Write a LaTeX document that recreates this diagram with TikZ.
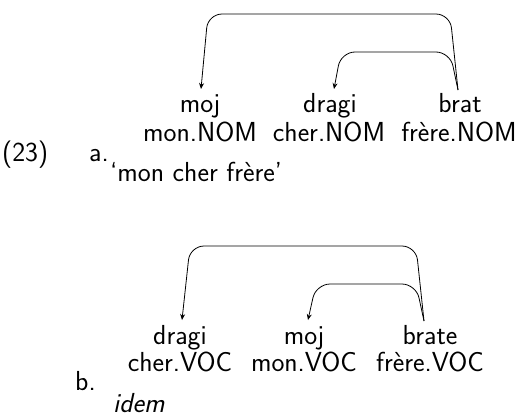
\documentclass[tikz,border=0pt]{standalone}
\usetikzlibrary{arrows.meta}
\tikzset{
  txt/.style={font=\sffamily\fontsize{27.5}{33}\selectfont, inner sep=0pt},
  word/.style={txt, anchor=base},
  lab/.style={txt, anchor=base west},
  dep/.style={-{Stealth[length=6pt,width=5pt]}, line width=0.8pt, rounded corners=14pt}
}
\begin{document}
\begin{tikzpicture}[x=1pt,y=-1pt]
\useasboundingbox (0,0) rectangle (527,416);
% example a
\node[lab] (num) at (2,161) {(23)};
\node[lab] (la) at (89,161) {a.};
\node[word] (w1a) at (200,112) {moj};
\node[word] (w2a) at (330,112) {dragi};
\node[word] (w3a) at (460,112) {brat};
\node[word] (g1a) at (200,141) {mon.NOM};
\node[word] (g2a) at (329,141) {cher.NOM};
\node[word] (g3a) at (459,141) {frère.NOM};
\node[lab] (tra) at (110,181) {\textquoteleft mon cher frère\textquoteright};
\draw[dep] ([xshift=-2pt,yshift=22pt]w3a.base) -- ([xshift=-10pt,yshift=98pt]w3a.base) -- ([xshift=8pt,yshift=98pt]w1a.base) -- ([xshift=1pt,yshift=23pt]w1a.base);
\draw[dep] ([xshift=-2pt,yshift=22pt]w3a.base) -- ([xshift=-10pt,yshift=60pt]w3a.base) -- ([xshift=11pt,yshift=60pt]w2a.base) -- ([xshift=4pt,yshift=23pt]w2a.base);
% example b
\node[lab] (lb) at (75,390) {b.};
\node[word] (w1b) at (180,344) {dragi};
\node[word] (w2b) at (304,344) {moj};
\node[word] (w3b) at (430,344) {brate};
\node[word] (g1b) at (180,371) {cher.VOC};
\node[word] (g2b) at (304,371) {mon.VOC};
\node[word] (g3b) at (430,371) {frère.VOC};
\node[lab, text depth=0pt] (trb) at (113,412) {\itshape idem};
\draw[dep] ([xshift=-6pt,yshift=23pt]w3b.base) -- ([xshift=-14pt,yshift=98pt]w3b.base) -- ([xshift=10pt,yshift=98pt]w1b.base) -- ([xshift=2pt,yshift=24pt]w1b.base);
\draw[dep] ([xshift=-6pt,yshift=23pt]w3b.base) -- ([xshift=-14pt,yshift=60pt]w3b.base) -- ([xshift=12pt,yshift=60pt]w2b.base) -- ([xshift=4pt,yshift=24pt]w2b.base);
\end{tikzpicture}
\end{document}
